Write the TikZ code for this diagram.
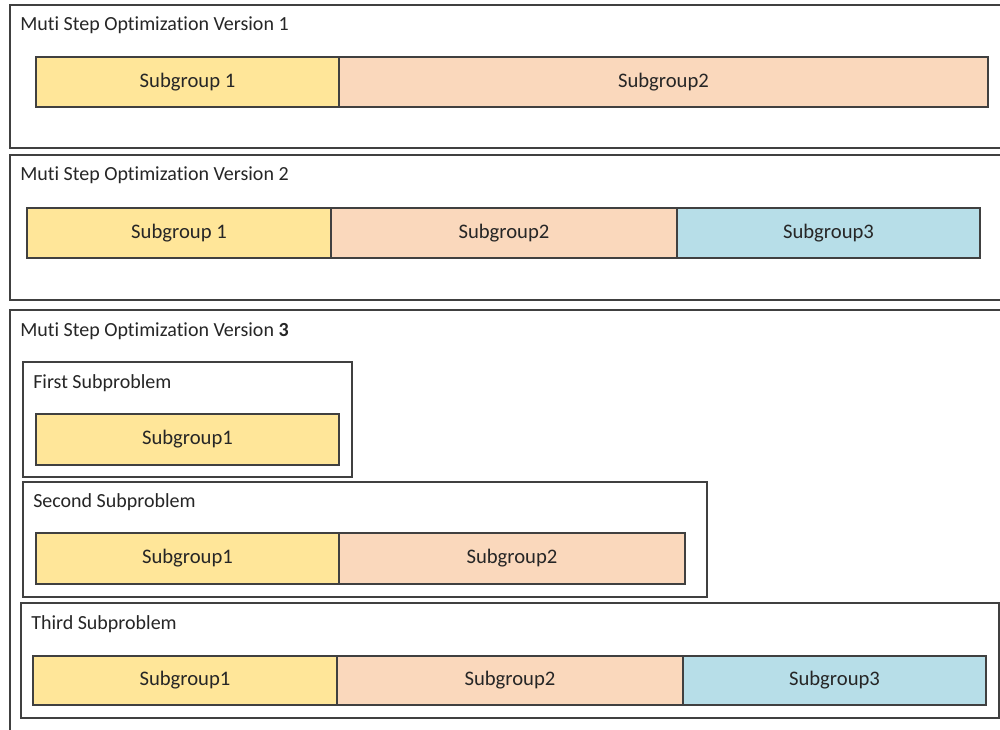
\documentclass[tikz,border=0pt]{standalone}
\usepackage{fontspec}
\setmainfont{Carlito}[Ligatures={NoCommon}]
\usetikzlibrary{fit}
\definecolor{ylw}{RGB}{255,230,153}
\definecolor{pch}{RGB}{250,216,188}
\definecolor{blu}{RGB}{183,222,232}
\definecolor{edge}{RGB}{64,64,64}
\definecolor{ink}{RGB}{38,38,38}
\begin{document}
\begin{tikzpicture}[x=0.75pt,y=-0.75pt,
  frame/.style={draw=edge,line width=0.9pt,fill=white},
  subframe/.style={draw=edge,line width=0.8pt,fill=white},
  seg/.style={draw=edge,line width=0.8pt,inner sep=0pt},
  seglabel/.style={inner sep=0pt,font=\fontsize{15.5}{18}\selectfont,text=ink},
  caption/.style={anchor=base west,inner sep=0pt,font=\fontsize{15}{18}\selectfont,text=ink}]
\useasboundingbox (0,0) rectangle (1000,730);
\clip (0,0) rectangle (1000,730);
\fill[white] (0,0) rectangle (1000,730);

% Version 1
\draw[frame] (10,5) rectangle (1010,148);
\node[caption] (t1) at (20,31) {Muti Step Optimization Version 1};
\node[seg,fill=ylw,fit={(36,57) (339,107)}] (v1a) {};
\node[seg,fill=pch,fit={(339,57) (988,107)}] (v1b) {};
\node[seglabel] (v1al) at (v1a.center) {Subgroup 1};
\node[seglabel] (v1bl) at (v1b.center) {Subgroup2};

% Version 2
\draw[frame] (10,155) rectangle (1010,300);
\node[caption] (t2) at (20,181) {Muti Step Optimization Version 2};
\node[seg,fill=ylw,fit={(27,208) (331,258)}] (v2a) {};
\node[seg,fill=pch,fit={(331,208) (677,258)}] (v2b) {};
\node[seg,fill=blu,fit={(677,208) (980,258)}] (v2c) {};
\node[seglabel] (v2al) at (v2a.center) {Subgroup 1};
\node[seglabel] (v2bl) at (v2b.center) {Subgroup2};
\node[seglabel] (v2cl) at (v2c.center) {Subgroup3};

% Version 3
\draw[frame] (10,310) rectangle (1010,760);
\node[caption] (t3) at (20,337) {Muti Step Optimization Version \textbf{3}};

% first subproblem
\draw[subframe] (23,362) rectangle (352,477);
\node[caption] (s1) at (33,389) {First Subproblem};
\node[seg,fill=ylw,fit={(36,414) (339,465)}] (p1a) {};
\node[seglabel] (p1al) at (p1a.center) {Subgroup1};

% second subproblem
\draw[subframe] (23,482) rectangle (707,597);
\node[caption] (s2) at (33,508) {Second Subproblem};
\node[seg,fill=ylw,fit={(36,533) (339,584)}] (p2a) {};
\node[seg,fill=pch,fit={(339,533) (685,584)}] (p2b) {};
\node[seglabel] (p2al) at (p2a.center) {Subgroup1};
\node[seglabel] (p2bl) at (p2b.center) {Subgroup2};

% third subproblem
\draw[subframe] (21,603) rectangle (999,718);
\node[caption] (s3) at (31,630) {Third Subproblem};
\node[seg,fill=ylw,fit={(33,656) (337,705)}] (p3a) {};
\node[seg,fill=pch,fit={(337,656) (683,705)}] (p3b) {};
\node[seg,fill=blu,fit={(683,656) (986,705)}] (p3c) {};
\node[seglabel] (p3al) at (p3a.center) {Subgroup1};
\node[seglabel] (p3bl) at (p3b.center) {Subgroup2};
\node[seglabel] (p3cl) at (p3c.center) {Subgroup3};
\end{tikzpicture}
\end{document}
